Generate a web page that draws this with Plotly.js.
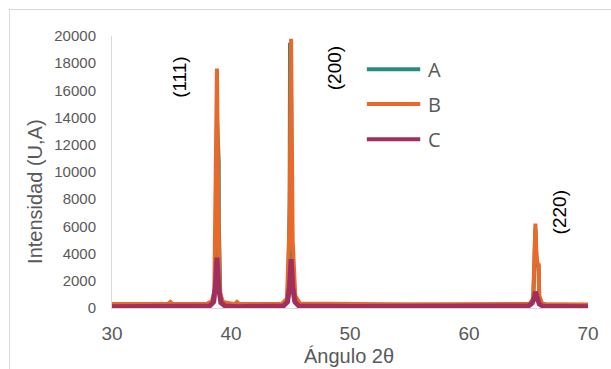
<!DOCTYPE html>
<html>
<head>
<meta charset="utf-8">
<script src="https://cdn.plot.ly/plotly-3.0.1.min.js"></script>
<style>
  html, body { margin: 0; padding: 0; background: #fff; }
  #chart { width: 611px; height: 369px; position: absolute; left: 0; top: 0; }
  #frame { position: absolute; left: 9px; top: 9px; width: 800px; height: 600px;
           border-top: 1px solid #D9D9D9; border-left: 1px solid #D9D9D9;
           pointer-events: none; z-index: 5; }
</style>
</head>
<body>
<div id="chart"></div>
<div id="frame"></div>
<script>
// Series A
const xA = [30, 34.9, 38.3, 38.6, 38.75, 38.82, 38.97, 38.98, 39.1, 39.4, 40.5, 44.5, 44.8, 44.93, 44.935, 44.96, 45.05, 45.12, 45.3, 45.6, 50, 55, 60, 65.2, 65.4, 65.5, 65.58, 65.66, 65.75, 65.85, 65.9, 66.1, 66.4, 70];
const yA = [210, 230, 280, 500, 2900, 14000, 10700, 6300, 900, 300, 230, 300, 700, 7900, 13400, 19500, 15000, 2500, 600, 300, 230, 220, 240, 280, 650, 3300, 5800, 3800, 3200, 3100, 850, 380, 260, 220];
// Series B
const xB = [30, 34.7, 34.9, 35.1, 38.0, 38.4, 38.6, 38.72, 38.82, 38.92, 39.05, 39.3, 40.3, 40.5, 40.7, 44.3, 44.7, 44.92, 45.05, 45.18, 45.4, 45.8, 50, 55, 60, 65.1, 65.4, 65.5, 65.58, 65.66, 65.75, 65.85, 65.9, 66.1, 66.4, 70];
const yB = [290, 290, 450, 290, 320, 500, 1200, 9000, 17600, 8000, 1200, 450, 280, 450, 290, 320, 700, 6000, 19800, 5000, 900, 330, 270, 260, 280, 300, 700, 3500, 6200, 4000, 3300, 3200, 900, 400, 280, 250];
// Series C
const xC = [30, 35, 38.2, 38.5, 38.68, 38.82, 38.96, 39.15, 39.5, 40.5, 44.4, 44.75, 44.92, 45.05, 45.18, 45.37, 45.7, 50, 55, 60, 65.0, 65.3, 65.47, 65.58, 65.7, 65.9, 66.2, 70];
const yC = [100, 100, 150, 400, 1500, 3700, 1500, 400, 150, 100, 150, 450, 1600, 3600, 1600, 450, 150, 110, 100, 120, 150, 350, 700, 1200, 700, 300, 130, 100];

const seriesNames = ['A', 'B', 'C'];
const seriesColors = ['#2A8C7D', '#E8692A', '#A12E5E'];
const peakLabels = ['(111)', '(200)', '(220)'];

const gray = '#595959';
const traces = [
  {x: xA, y: yA, name: seriesNames[0], mode: 'lines', line: {color: seriesColors[0], width: 4}},
  {x: xB, y: yB, name: seriesNames[1], mode: 'lines', line: {color: seriesColors[1], width: 4}},
  {x: xC, y: yC, name: seriesNames[2], mode: 'lines', line: {color: seriesColors[2], width: 5}}
];

// manual legend
const legY = [0.8776, 0.75, 0.62];
const shapes = [];
const annotations = [];
for (let i = 0; i < 3; i++) {
  shapes.push({type: 'line', xref: 'paper', yref: 'paper', x0: 0.5354, x1: 0.6475, y0: legY[i], y1: legY[i],
    line: {color: seriesColors[i], width: 4}, layer: 'above'});
  annotations.push({xref: 'paper', yref: 'paper', x: 0.66, y: legY[i], xanchor: 'left', yanchor: 'middle',
    text: seriesNames[i], showarrow: false, font: {family: 'Open Sans', size: 20, color: gray}});
}
const peakPos = [[0.143, 0.850], [0.4667, 0.882], [0.942, 0.353]];
for (let i = 0; i < 3; i++) {
  annotations.push({xref: 'paper', yref: 'paper', x: peakPos[i][0], y: peakPos[i][1], xanchor: 'center', yanchor: 'middle',
    text: peakLabels[i], textangle: -90, showarrow: false, font: {family: 'Liberation Sans', size: 19, color: '#000'}});
}
annotations.push({xref: 'paper', yref: 'paper', x: -0.162, y: 0.43, xanchor: 'center', yanchor: 'middle',
  text: 'Intensidad (U,A)', textangle: -90, showarrow: false, font: {family: 'Liberation Sans', size: 20, color: gray}});
annotations.push({xref: 'paper', yref: 'paper', x: 0.498, y: -0.176, xanchor: 'center', yanchor: 'middle',
  text: 'Ángulo 2θ', showarrow: false, font: {family: 'Liberation Sans', size: 20, color: gray}});

const layout = {
  width: 611, height: 369,
  margin: {l: 112, r: 23, t: 36, b: 61},
  paper_bgcolor: '#fff', plot_bgcolor: '#fff',
  showlegend: false,
  xaxis: {range: [30, 70], dtick: 10, tick0: 30, showgrid: false, zeroline: false,
    showline: true, linecolor: '#D9D9D9', linewidth: 1, ticks: '', ticklabelstandoff: 8,
    tickfont: {family: 'Liberation Sans', size: 19, color: gray}},
  yaxis: {range: [0, 20000], dtick: 2000, tick0: 0, showgrid: false, zeroline: false,
    tickformat: 'd', exponentformat: 'none', separatethousands: false,
    showline: true, linecolor: '#D9D9D9', linewidth: 1, ticks: '', ticklabelstandoff: 12,
    tickfont: {family: 'Liberation Sans', size: 15, color: gray}},
  shapes: shapes,
  annotations: annotations
};
Plotly.newPlot('chart', traces, layout, {displayModeBar: false, staticPlot: true});
</script>
</body>
</html>
